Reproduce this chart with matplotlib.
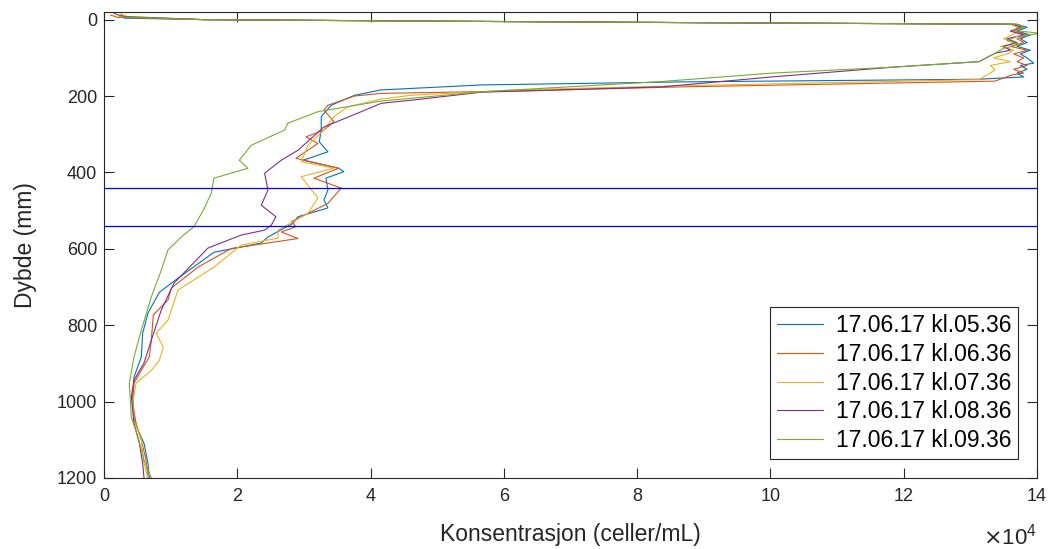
import numpy as np
import matplotlib
matplotlib.use('Agg')
import matplotlib.pyplot as plt

plt.rcParams['font.family'] = ['Liberation Sans', 'DejaVu Sans']
plt.rcParams['xtick.direction'] = 'in'
plt.rcParams['ytick.direction'] = 'in'
plt.rcParams['axes.unicode_minus'] = False

labels = ['17.06.17 kl.05.36', '17.06.17 kl.06.36', '17.06.17 kl.07.36',
          '17.06.17 kl.08.36', '17.06.17 kl.09.36']
colors = ['#0072BD', '#D95319', '#EDB120', '#7E2F8E', '#77AC30']

# concentration in units of 1e4 celler/mL, depth in mm
depth_0536 = [-14, -8, -4, 0, 4, 8, 12, 20, 30, 40, 50, 60, 70, 80, 90, 100, 114, 120, 130, 140,
              150, 156, 163, 171, 184, 198, 224, 254, 289, 320, 346, 368, 389, 398, 415, 446,
              472, 493, 516, 533, 569, 585, 609, 677, 714, 768, 821, 883, 936, 988, 1041, 1075,
              1109, 1161, 1200]
conc_0536 = [0.27, 0.3, 0.3, 1.5, 5.0, 9.0, 13.7, 13.85, 13.7, 13.9, 13.75, 13.85, 13.7, 13.9,
             13.75, 13.85, 13.95, 13.75, 13.85, 13.7, 13.8, 13.13, 8.67, 5.66, 4.16, 3.76, 3.41,
             3.26, 3.26, 3.23, 3.36, 2.99, 3.52, 3.6, 3.33, 3.36, 3.3, 3.36, 2.91, 2.84, 2.46,
             2.36, 1.65, 1.11, 0.83, 0.66, 0.58, 0.56, 0.45, 0.43, 0.45, 0.51, 0.6, 0.66, 0.68]

depth_0636 = [-12, -6, 0, 4, 8, 12, 20, 30, 40, 50, 60, 70, 80, 90, 100, 110, 120, 130, 140, 145,
              161, 176, 187, 193, 200, 224, 237, 267, 289, 307, 324, 363, 389, 415, 441, 481,
              503, 529, 542, 556, 573, 599, 648, 703, 734, 773, 839, 883, 918, 952, 1004, 1057,
              1101, 1153, 1200]
conc_0636 = [0.1, 0.2, 1.5, 5.0, 9.0, 13.6, 13.8, 13.65, 13.85, 13.7, 13.8, 13.6, 13.85, 13.65,
             13.8, 13.7, 13.85, 13.65, 13.8, 13.62, 13.37, 8.67, 6.16, 4.16, 3.76, 3.36, 3.3,
             3.45, 3.3, 3.03, 3.21, 2.88, 3.52, 3.15, 3.56, 3.36, 3.11, 2.81, 2.88, 2.66, 2.91,
             1.91, 1.41, 1.01, 0.96, 0.74, 0.71, 0.68, 0.56, 0.45, 0.43, 0.48, 0.56, 0.63, 0.66]

depth_0736 = [-15, -8, 0, 4, 8, 12, 20, 36, 50, 60, 70, 80, 88, 100, 110, 120, 132, 145, 150, 157,
              173, 184, 198, 208, 228, 254, 289, 329, 359, 372, 389, 411, 467, 507, 529, 551,
              559, 572, 590, 648, 708, 787, 821, 857, 892, 918, 952, 1004, 1049, 1101, 1161, 1200]
conc_0736 = [0.25, 0.35, 1.5, 5.0, 9.0, 13.6, 13.7, 13.67, 13.5, 13.7, 13.45, 13.65, 13.58,
             13.35, 13.6, 13.3, 13.37, 13.25, 13.2, 13.13, 8.67, 6.16, 4.61, 4.16, 3.66, 3.45,
             3.3, 3.06, 2.99, 2.96, 3.45, 2.96, 3.21, 3.06, 2.84, 2.61, 2.61, 2.61, 2.06, 1.65,
             1.11, 0.96, 0.78, 0.89, 0.83, 0.71, 0.48, 0.43, 0.45, 0.56, 0.6, 0.66]

depth_0836 = [-16, -8, 0, 4, 8, 12, 20, 30, 40, 50, 60, 70, 80, 88, 110, 124, 150, 176, 190, 211,
              219, 241, 281, 342, 368, 402, 446, 486, 516, 538, 551, 564, 598, 616, 690, 760,
              839, 899, 944, 988, 1057, 1109, 1161, 1200]
conc_0836 = [0.15, 0.3, 1.5, 5.0, 9.0, 13.65, 13.75, 13.6, 13.8, 13.55, 13.7, 13.5, 13.6, 13.37,
             13.13, 11.87, 10.02, 8.37, 5.66, 4.61, 4.16, 3.86, 3.3, 2.91, 2.66, 2.41, 2.46,
             2.36, 2.58, 2.51, 2.41, 2.06, 1.56, 1.46, 1.05, 0.86, 0.71, 0.6, 0.45, 0.41, 0.45,
             0.53, 0.58, 0.6]

depth_0936 = [-13, -7, 0, 4, 8, 12, 20, 28, 36, 44, 55, 65, 75, 88, 110, 124, 140, 162, 189, 206,
              213, 241, 271, 289, 329, 368, 389, 415, 454, 499, 542, 569, 603, 656, 726, 813,
              883, 952, 1041, 1093, 1153, 1200]
conc_0936 = [0.2, 0.25, 1.5, 5.0, 9.0, 13.7, 13.8, 13.65, 14.05, 13.7, 13.55, 13.75, 13.5, 13.37,
             13.13, 11.87, 10.02, 8.37, 5.66, 4.61, 4.16, 3.21, 2.76, 2.71, 2.21, 2.03, 2.16,
             1.65, 1.61, 1.49, 1.35, 1.16, 0.96, 0.86, 0.71, 0.56, 0.45, 0.38, 0.41, 0.51, 0.6,
             0.71]

marker_depths = [440, 540]

series = [(conc_0536, depth_0536), (conc_0636, depth_0636), (conc_0736, depth_0736),
          (conc_0836, depth_0836), (conc_0936, depth_0936)]

fig = plt.figure(figsize=(10.55, 5.49), dpi=100)
ax = fig.add_axes([104 / 1055, 1 - 478 / 549, 933 / 1055, 466 / 549])

for (c, d), col, lab in zip(series, colors, labels):
    ax.plot(np.array(c) * 1e4, d, color=col, linewidth=0.8, label=lab)

for yd in marker_depths:
    ax.axhline(yd, color='b', linewidth=0.9)

ax.set_xlim(0, 14e4)
ax.set_ylim(1200, -20)
ax.set_xticks(np.arange(0, 14.1, 2) * 1e4)
ax.set_xticklabels([str(int(v)) for v in np.arange(0, 14.1, 2)])
ax.set_yticks(np.arange(0, 1201, 200))

gray = '#262626'
for s in ax.spines.values():
    s.set_color(gray)
    s.set_linewidth(0.8)
ax.tick_params(which='both', top=True, right=True, length=7, width=0.8, color=gray,
               labelsize=13, labelcolor=gray)
ax.tick_params(axis='x', pad=7)
ax.tick_params(axis='y', pad=5)

ax.set_xlabel('Konsentrasjon (celler/mL)', fontsize=16.5, color=gray, labelpad=13)
ax.set_ylabel('Dybde (mm)', fontsize=16.5, color=gray, labelpad=14)
ax.text(1.0, -0.125, r'$\times\mathregular{10^{4}}$', transform=ax.transAxes,
        ha='right', va='center', fontsize=16, color=gray)

leg = ax.legend(loc='lower right', bbox_to_anchor=(0.9796, 0.0408), borderaxespad=0,
                fontsize=16.5, frameon=True, fancybox=False, edgecolor=gray, framealpha=1,
                handlelength=2.0, handletextpad=0.55, labelspacing=0.25, borderpad=0.3)
leg.get_frame().set_linewidth(0.8)

fig.savefig('out.png', dpi=100)
